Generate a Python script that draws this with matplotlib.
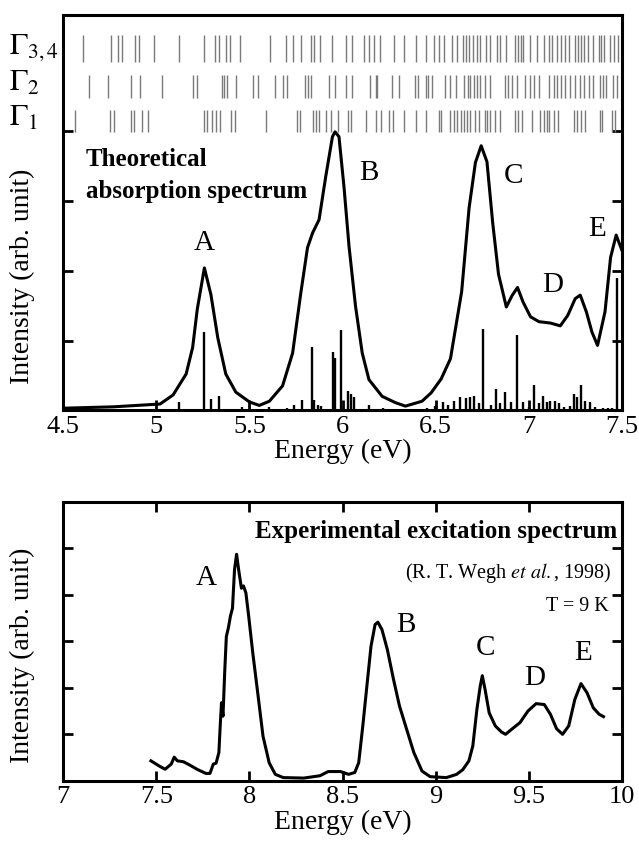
import numpy as np
import matplotlib
matplotlib.use("Agg")
import matplotlib.pyplot as plt
import matplotlib.transforms as mtransforms

plt.rcParams['font.family'] = ['Liberation Serif', 'DejaVu Serif']
plt.rcParams['mathtext.fontset'] = 'stix'

# ---- theoretical absorption spectrum (top panel) ----
theo_e = [4.50, 4.77, 5.02, 5.09, 5.16, 5.195, 5.22, 5.258, 5.293, 5.33, 5.373, 5.427, 5.50,
          5.553, 5.607, 5.678, 5.732, 5.776, 5.812, 5.839, 5.874, 5.91, 5.946, 5.96, 5.981,
          6.008, 6.035, 6.07, 6.106, 6.142, 6.213, 6.284, 6.338, 6.427, 6.476, 6.53, 6.58,
          6.64, 6.68, 6.714, 6.745, 6.776, 6.807, 6.838, 6.88, 6.91, 6.94, 6.97, 7.01, 7.055,
          7.117, 7.17, 7.21, 7.25, 7.277, 7.31, 7.34, 7.37, 7.41, 7.44, 7.47, 7.50]
theo_i = [0.03, 0.05, 0.09, 0.22, 0.52, 0.90, 1.45, 2.04, 1.66, 1.04, 0.52, 0.26, 0.12,
          0.07, 0.13, 0.35, 0.82, 1.68, 2.33, 2.54, 2.73, 3.35, 3.92, 3.99, 3.92,
          3.20, 2.35, 1.49, 0.82, 0.44, 0.20, 0.11, 0.06, 0.13, 0.25, 0.45, 0.74,
          1.70, 2.90, 3.55, 3.79, 3.56, 2.68, 1.95, 1.48, 1.64, 1.76, 1.55, 1.34, 1.27,
          1.25, 1.21, 1.36, 1.60, 1.65, 1.41, 1.12, 0.93, 1.41, 2.19, 2.51, 2.30]

stick_e = [5.121, 5.255, 5.292, 5.338, 5.458, 5.607, 5.70, 5.737, 5.783, 5.834, 5.845,
           5.866, 5.886, 5.948, 5.959, 5.99, 6.031, 6.048, 6.06, 6.14, 6.217, 6.455,
           6.497, 6.538, 6.569, 6.60, 6.631, 6.662, 6.683, 6.704, 6.735, 6.757, 6.797,
           6.824, 6.848, 6.875, 6.906, 6.937, 6.972, 7.004, 7.03, 7.055, 7.076, 7.097,
           7.117, 7.142, 7.163, 7.19, 7.221, 7.242, 7.262, 7.283, 7.304, 7.329, 7.356,
           7.397, 7.428, 7.449, 7.475]
stick_i = [0.12, 1.12, 0.16, 0.20, 0.05, 0.05, 0.04, 0.07, 0.15, 0.91, 0.15,
           0.08, 0.06, 0.83, 0.75, 1.15, 0.27, 0.24, 0.19, 0.08, 0.04, 0.04,
           0.06, 0.12, 0.07, 0.14, 0.19, 0.17, 0.19, 0.21, 0.10, 1.16, 0.07,
           0.31, 0.10, 0.26, 0.12, 1.08, 0.12, 0.05, 0.36, 0.10, 0.20, 0.12,
           0.13, 0.14, 0.11, 0.05, 0.06, 0.24, 0.19, 0.36, 0.14, 0.12, 0.05,
           0.03, 0.03, 0.03, 1.90]

# symmetry-resolved transition energies (eV)
gamma34_e = [4.607, 4.755, 4.796, 4.817, 4.887, 4.906, 4.987, 5.121, 5.255, 5.314, 5.337,
             5.376, 5.394, 5.451, 5.611, 5.696, 5.732, 5.776, 5.830, 5.848, 5.878, 5.942,
             6.018, 6.053, 6.116, 6.143, 6.169, 6.201, 6.276, 6.333, 6.396, 6.446, 6.490,
             6.518, 6.545, 6.589, 6.616, 6.646, 6.664, 6.678, 6.700, 6.723, 6.741, 6.771,
             6.794, 6.830, 6.848, 6.878, 6.924, 6.942, 6.960, 6.972, 7.009, 7.045, 7.080,
             7.111, 7.128, 7.152, 7.173, 7.193, 7.217, 7.250, 7.264, 7.282, 7.299, 7.321,
             7.348, 7.378, 7.389, 7.406, 7.437, 7.460, 7.478]
gamma2_e = [4.639, 4.741, 4.864, 4.910, 5.032, 5.196, 5.219, 5.353, 5.365, 5.378, 5.428,
            5.521, 5.548, 5.639, 5.678, 5.700, 5.798, 5.812, 5.830, 5.928, 5.960, 6.021,
            6.053, 6.146, 6.178, 6.187, 6.264, 6.303, 6.389, 6.406, 6.446, 6.460, 6.481,
            6.553, 6.580, 6.611, 6.655, 6.673, 6.687, 6.705, 6.723, 6.741, 6.764, 6.794,
            6.871, 6.889, 6.910, 6.937, 6.978, 7.005, 7.027, 7.057, 7.111, 7.134, 7.152,
            7.173, 7.196, 7.223, 7.250, 7.276, 7.299, 7.324, 7.348, 7.383, 7.401, 7.414,
            7.455, 7.472]
gamma1_e = [4.562, 4.750, 4.773, 4.862, 4.880, 4.922, 4.955, 5.258, 5.273, 5.300, 5.321,
            5.344, 5.401, 5.422, 5.589, 5.758, 5.771, 5.839, 5.857, 5.874, 5.910, 5.940,
            5.978, 6.027, 6.045, 6.128, 6.178, 6.205, 6.250, 6.271, 6.330, 6.396, 6.446,
            6.518, 6.527, 6.580, 6.598, 6.616, 6.634, 6.652, 6.669, 6.687, 6.710, 6.732,
            6.764, 6.776, 6.794, 6.821, 6.848, 6.924, 6.942, 6.963, 7.018, 7.062, 7.080,
            7.098, 7.111, 7.134, 7.160, 7.241, 7.258, 7.282, 7.303, 7.383, 7.396, 7.446,
            7.463]
gamma_rows = [(gamma34_e, 4.99, 5.37, r"$\Gamma_{3,4}$", 5.20),
              (gamma2_e, 4.47, 4.81, r"$\Gamma_{2}$", 4.68),
              (gamma1_e, 3.99, 4.30, r"$\Gamma_{1}$", 4.18)]

theo_peaks = ["A", "B", "C", "D", "E"]
theo_peak_pos = [(5.255, 2.40), (6.14, 3.40), (6.92, 3.35), (7.13, 1.80), (7.365, 2.60)]

# ---- experimental excitation spectrum (bottom panel) ----
exp_e = [7.471, 7.515, 7.547, 7.58, 7.596, 7.613, 7.646, 7.679, 7.723, 7.766, 7.788, 7.806,
         7.821, 7.836, 7.843, 7.85, 7.858, 7.867, 7.876, 7.887, 7.898, 7.909, 7.92, 7.931,
         7.942, 7.957, 7.968, 7.981, 7.996, 8.018, 8.04, 8.073, 8.106, 8.139, 8.182, 8.292,
         8.379, 8.423, 8.489, 8.533, 8.566, 8.587, 8.609, 8.631, 8.653, 8.675, 8.69, 8.712,
         8.741, 8.774, 8.806, 8.839, 8.883, 8.927, 8.971, 9.058, 9.113, 9.146, 9.179, 9.20,
         9.222, 9.24, 9.251, 9.266, 9.288, 9.321, 9.354, 9.376, 9.409, 9.453, 9.496, 9.54,
         9.584, 9.617, 9.65, 9.682, 9.715, 9.748, 9.781, 9.814, 9.847, 9.879, 9.902]
exp_i = [0.43, 0.32, 0.25, 0.36, 0.51, 0.43, 0.41, 0.34, 0.24, 0.16, 0.16, 0.36,
         0.38, 0.61, 1.18, 1.68, 1.39, 2.32, 3.10, 3.29, 3.54, 3.71, 4.54, 4.87,
         4.54, 4.14, 4.19, 4.04, 3.54, 2.75, 2.04, 0.96, 0.39, 0.14, 0.07, 0.06,
         0.11, 0.20, 0.20, 0.14, 0.18, 0.39, 1.18, 2.04, 2.89, 3.36, 3.41, 3.25,
         2.82, 2.18, 1.61, 1.18, 0.61, 0.21, 0.09, 0.07, 0.14, 0.24, 0.43, 0.75,
         1.54, 2.04, 2.26, 1.96, 1.46, 1.18, 1.05, 1.00, 1.11, 1.25, 1.50, 1.66,
         1.64, 1.43, 1.12, 1.00, 1.18, 1.75, 2.09, 1.89, 1.57, 1.43, 1.38]

exp_peaks = ["A", "B", "C", "D", "E"]
exp_peak_pos = [(7.766, 4.36), (8.84, 3.36), (9.266, 2.86), (9.53, 2.21), (9.79, 2.75)]

fig = plt.figure(figsize=(6.39, 8.46), dpi=100)
ax1 = fig.add_axes([0.099, 0.515, 0.874, 0.467])
ax2 = fig.add_axes([0.099, 0.077, 0.874, 0.330])

for ax in (ax1, ax2):
  for sp in ax.spines.values():
    sp.set_linewidth(2.2)
  ax.tick_params(direction="in", length=7, width=2, labelsize=19, pad=4)

# top panel
ax1.plot(theo_e, theo_i, color="black", linewidth=2.2)
ax1.vlines(stick_e, 0, stick_i, color="black", linewidth=1.7)
trans = mtransforms.blended_transform_factory(ax1.transAxes, ax1.transData)
for energies, y0, y1, label, ylab in gamma_rows:
  ax1.vlines(energies, y0, y1, color="#7a7a7a", linewidth=1.0)
  ax1.text(-0.097, ylab, label, transform=trans, fontsize=22,
           ha="left", va="center")
for name, (x, y) in zip(theo_peaks, theo_peak_pos):
  ax1.text(x, y, name, fontsize=21, ha="center", va="center")
ax1.text(4.62, 3.60, "Theoretical", fontsize=18, fontweight="bold",
         ha="left", va="center")
ax1.text(4.62, 3.13, "absorption spectrum", fontsize=18, fontweight="bold",
         ha="left", va="center")

ax1.set_xlim(4.5, 7.5)
ax1.set_ylim(0, 5.66)
ax1.set_xticks([4.5, 5, 5.5, 6, 6.5, 7, 7.5])
ax1.set_xticklabels(["4.5", "5", "5.5", "6", "6.5", "7", "7.5"])
ax1.set_yticks([1, 2, 3, 4])
ax1.set_yticklabels([])
ax1.tick_params(axis="y", right=True)
ax1.set_xlabel("Energy (eV)", fontsize=20, labelpad=1)
ax1.set_ylabel("Intensity (arb. unit)", fontsize=20)
ax1.yaxis.set_label_coords(-0.05, 0.34)

# bottom panel
ax2.plot(exp_e, exp_i, color="black", linewidth=2.2)
for name, (x, y) in zip(exp_peaks, exp_peak_pos):
  ax2.text(x, y, name, fontsize=21, ha="center", va="center")
ax2.text(9.975, 5.36, "Experimental excitation spectrum", fontsize=18,
         fontweight="bold", ha="right", va="center")
ax2.text(9.945, 4.46, "(R. T. Wegh $\\it{et\\ al.}$, 1998)", fontsize=14.5,
         ha="right", va="center")
ax2.text(9.93, 3.75, "T = 9 K", fontsize=14.5, ha="right", va="center")

ax2.set_xlim(7, 10)
ax2.set_ylim(0, 6)
ax2.set_xticks([7, 7.5, 8, 8.5, 9, 9.5, 10])
ax2.set_xticklabels(["7", "7.5", "8", "8.5", "9", "9.5", "10"])
ax2.set_yticks([1, 2, 3, 4, 5])
ax2.set_yticklabels([])
ax2.tick_params(axis="y", right=True)
ax2.tick_params(axis="x", top=True)
ax2.set_xlabel("Energy (eV)", fontsize=20, labelpad=1)
ax2.set_ylabel("Intensity (arb. unit)", fontsize=20)
ax2.yaxis.set_label_coords(-0.05, 0.45)

fig.savefig("out.png", dpi=100)
